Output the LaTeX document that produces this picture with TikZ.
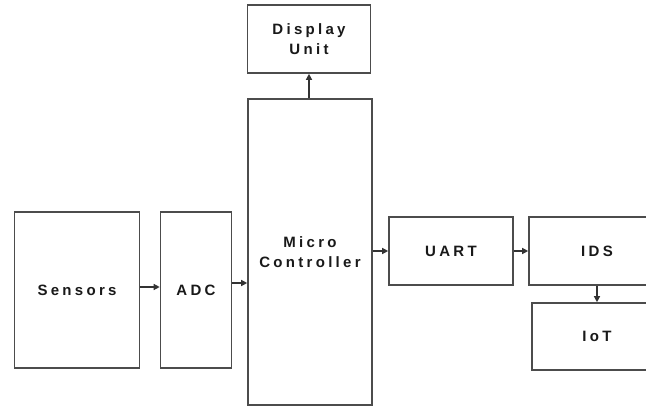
\documentclass[tikz,border=0pt]{standalone}
\usepackage{fontspec}
\newfontfamily\blkfont{Liberation Sans}[LetterSpace=22,UprightFont=*-Bold,BoldFont=*-Bold]
\usetikzlibrary{arrows.meta}
\begin{document}
\begin{tikzpicture}[x=1pt,y=-1pt,
  blk/.style={draw=black!70, line width=1.6pt, fill=white, inner sep=0pt, align=center,
    font=\blkfont\fontsize{15}{20}\selectfont, text=black!90},
  conn/.style={draw=black!80, line width=1.3pt, -{Triangle[length=6pt,width=6pt]}}]
\useasboundingbox (0,0) rectangle (646,407);
\fill[white] (0,0) rectangle (646,407);
\node[blk, minimum width=123pt, minimum height=68pt] (disp) at (309,39) {Display\\Unit};
\node[blk, minimum width=124pt, minimum height=306pt] (mc) at (310,252) {Micro\\Controller};
\node[blk, minimum width=125pt, minimum height=156pt] (sens) at (77,290) {Sensors};
\node[blk, minimum width=71pt, minimum height=156pt] (adc) at (196,290) {ADC};
\node[blk, minimum width=124pt, minimum height=68pt] (uart) at (451,251) {UART};
\node[blk, minimum width=136pt, minimum height=68pt] (ids) at (597,251) {IDS};
\node[blk, minimum width=130pt, minimum height=67pt] (iot) at (597,336.5) {IoT};
\draw[conn] (mc.north -| disp.south) -- (disp.south);
\draw[conn] (sens.east |- 0,287) -- (adc.west |- 0,287);
\draw[conn] (adc.east |- 0,283) -- (mc.west |- 0,283);
\draw[conn] (mc.east |- uart.west) -- (uart.west);
\draw[conn] (uart.east) -- (ids.west);
\draw[conn] (ids.south) -- (iot.north);
\end{tikzpicture}
\end{document}
